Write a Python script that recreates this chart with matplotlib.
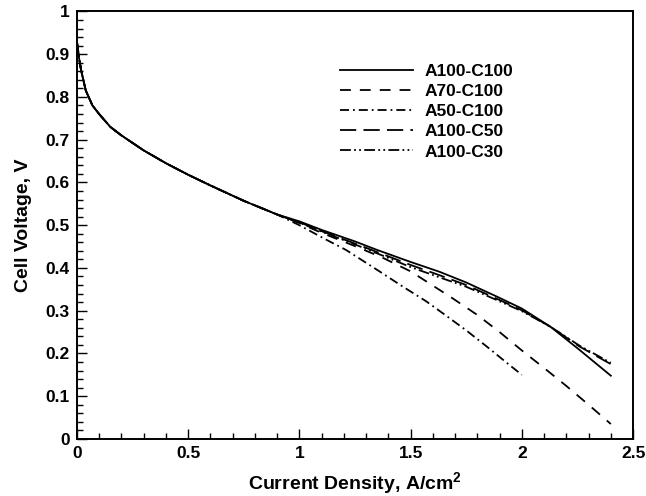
import numpy as np
import matplotlib
matplotlib.use("Agg")
import matplotlib.pyplot as plt
from matplotlib.ticker import MultipleLocator

# ===== dados =====
x_com = [0.0, 0.01, 0.02, 0.04, 0.07, 0.1, 0.15, 0.2, 0.3, 0.4, 0.5, 0.6, 0.75, 0.9]
v_com = [0.93, 0.89, 0.86, 0.815, 0.78, 0.76, 0.73, 0.71, 0.675, 0.645, 0.618, 0.593, 0.557, 0.525]

x_c100 = [1.0, 1.1, 1.25, 1.35, 1.5, 1.63, 1.75, 1.9, 2.0, 2.13, 2.26, 2.4]
v_a100_c100 = [0.509, 0.489, 0.462, 0.442, 0.414, 0.391, 0.366, 0.330, 0.305, 0.262, 0.208, 0.148]
v_a100_c50 = [0.507, 0.486, 0.457, 0.437, 0.407, 0.383, 0.360, 0.325, 0.301, 0.262, 0.216, 0.175]
v_a100_c30 = [0.506, 0.485, 0.455, 0.434, 0.402, 0.378, 0.356, 0.322, 0.299, 0.262, 0.218, 0.178]

x_a70 = [1.0, 1.1, 1.25, 1.37, 1.5, 1.68, 1.8, 1.9, 2.0, 2.1, 2.2, 2.3, 2.4]
v_a70 = [0.505, 0.482, 0.451, 0.425, 0.392, 0.332, 0.290, 0.250, 0.207, 0.166, 0.124, 0.080, 0.035]

x_a50 = [1.0, 1.11, 1.21, 1.36, 1.46, 1.57, 1.65, 1.75, 1.85, 1.93, 2.0]
v_a50 = [0.500, 0.469, 0.442, 0.392, 0.358, 0.322, 0.292, 0.254, 0.213, 0.179, 0.150]

labels = ["A100-C100", "A70-C100", "A50-C100", "A100-C50", "A100-C30"]
# ==================================

plt.rcParams["font.family"] = ["Liberation Sans", "DejaVu Sans"]
plt.rcParams["font.weight"] = "bold"
plt.rcParams["mathtext.fontset"] = "custom"
plt.rcParams["mathtext.bf"] = "Liberation Sans:bold"
plt.rcParams["mathtext.rm"] = "Liberation Sans:bold"


def curva(xs, vs):
    # junta o trecho comum (baixa corrente) com o trecho de cada caso
    return np.array(x_com + xs), np.array(v_com + vs)


fig = plt.figure(figsize=(6.46, 4.96), dpi=100)
ax = fig.add_axes([0.119, 0.115, 0.861, 0.862])

lw = 1.3
estilos = [
    (x_c100, v_a100_c100, None),
    (x_a70, v_a70, (6.0, 5.0)),
    (x_a50, v_a50, (5.0, 2.2, 1.0, 2.2)),
    (x_c100, v_a100_c50, (9.0, 4.0)),
    (x_c100, v_a100_c30, (6.0, 1.8, 1.0, 1.8, 1.0, 1.8)),
]
for (xs, vs, dash), lab in zip(estilos, labels):
    xx, vv = curva(xs, vs)
    line, = ax.plot(xx, vv, color="black", lw=lw, label=lab)
    if dash is not None:
        line.set_dashes(dash)

ax.set_xlim(0, 2.5)
ax.set_ylim(0, 1)
ax.xaxis.set_major_locator(MultipleLocator(0.5))
ax.xaxis.set_minor_locator(MultipleLocator(0.1))
ax.yaxis.set_major_locator(MultipleLocator(0.1))
ax.yaxis.set_minor_locator(MultipleLocator(0.02))
ax.xaxis.set_major_formatter(plt.FuncFormatter(lambda v, p: f"{v:g}"))
ax.yaxis.set_major_formatter(plt.FuncFormatter(lambda v, p: f"{v:g}"))
ax.tick_params(which="both", direction="in", top=False, right=False,
               labelsize=12.5, width=1.0)
ax.tick_params(which="major", length=7, pad=5)
ax.tick_params(which="minor", length=4)
for s in ax.spines.values():
    s.set_linewidth(1.4)

ax.set_xlabel(r"Current Density, A/cm$^{\mathbf{2}}$", fontsize=14, fontweight="bold", labelpad=7)
ax.set_ylabel("Cell Voltage, V", fontsize=14, fontweight="bold", labelpad=10)

ax.legend(loc="upper left", bbox_to_anchor=(0.46, 0.894), frameon=False,
          fontsize=12.5, handlelength=4.2, handletextpad=0.7, labelspacing=0.29,
          borderaxespad=0)

fig.savefig("out.png", dpi=100)
